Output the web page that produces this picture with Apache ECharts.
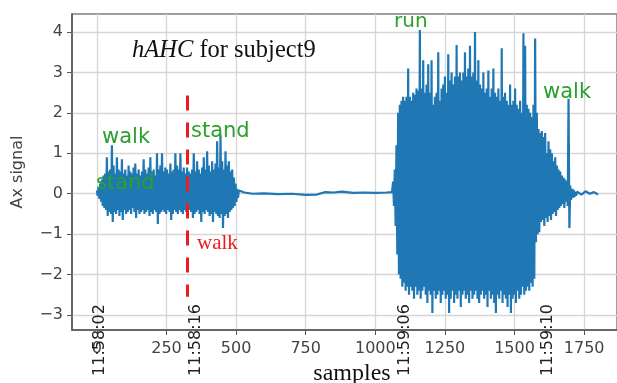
<!DOCTYPE html>
<html>
<head>
<meta charset="utf-8">
<script src="https://cdn.jsdelivr.net/npm/echarts@6/dist/echarts.min.js"></script>
<style>
  html, body { margin: 0; padding: 0; background: #fff; }
  #chart { width: 617px; height: 383px; }
</style>
</head>
<body>
<div id="chart"></div>
<script>
// axis ticks
const xTicks = [0, 250, 500, 750, 1000, 1250, 1500, 1750];
const yTicks = [-3, -2, -1, 0, 1, 2, 3, 4];

// clock times written under the axis
const timeTickX = [10, 357, 1107, 1621];
const timeTickText = ['11:58:02', '11:58:16', '11:59:06', '11:59:10'];

// signal, read as upper / lower swings every 6 samples
const step = 6;

const walkStart = 0;
const walkHi = [
  0.08, 0.15, 0.25, 0.35, 0.45, 0.5, 0.9, 0.55, 0.6, 1.2,
  0.7, 0.5, 0.9, 0.6, 0.55, 0.85, 0.5, 0.6, 0.45, 0.7,
  0.55, 0.5, 0.65, 0.75, 0.5, 0.6, 0.45, 0.55, 0.85, 0.6,
  0.5, 0.65, 0.9, 0.55, 0.6, 0.45, 1.0, 0.6, 0.7, 1.0,
  0.55, 0.65, 0.6, 0.5, 0.75, 0.55, 0.6, 1.0, 0.7, 0.6,
  1.0, 0.55, 0.65, 0.5, 0.65, 0.55, 0.5, 0.6, 1.0, 0.55,
  0.8, 0.6, 0.5, 0.65, 0.9, 0.6, 1.05, 0.7, 0.55, 0.8,
  0.6, 0.75, 1.3, 0.65, 1.45, 0.8, 0.6, 1.05, 0.7, 0.8,
  0.55, 0.6, 0.4, 0.25, 0.12
];
const walkLo = [
  -0.05, -0.12, -0.2, -0.3, -0.35, -0.4, -0.55, -0.45, -0.5, -0.7,
  -0.45, -0.5, -0.4, -0.55, -0.45, -0.65, -0.4, -0.5, -0.45, -0.4,
  -0.5, -0.35, -0.45, -0.6, -0.4, -0.5, -0.45, -0.4, -0.5, -0.45,
  -0.4, -0.55, -0.45, -0.5, -0.4, -0.45, -0.75, -0.5, -0.45, -0.4,
  -0.45, -0.5, -0.4, -0.45, -0.65, -0.5, -0.4, -0.45, -0.5, -0.4,
  -0.45, -0.5, -0.4, -0.45, -0.5, -0.4, -0.45, -0.6, -0.5, -0.45,
  -0.4, -0.5, -0.7, -0.45, -0.5, -0.4, -0.45, -0.55, -0.5, -0.7,
  -0.45, -0.5, -0.55, -0.6, -0.5, -0.85, -0.55, -0.5, -0.6, -0.45,
  -0.4, -0.35, -0.3, -0.2, -0.1
];

const quietX = [510, 530, 560, 600, 650, 700, 750, 790, 820, 850, 880, 920, 960, 1000, 1040, 1060];
const quietY = [0.08, 0.03, 0.0, 0.01, -0.01, 0.0, -0.03, -0.02, 0.04, 0.03, 0.05, 0.02, 0.03, 0.02, 0.03, 0.04];

const runStart = 1064;
const runHi = [
  0.3, 0.6, 1.2, 2.0, 2.2, 2.3, 2.4, 2.3, 2.4, 3.1,
  2.4, 2.3, 2.5, 2.45, 2.6, 2.55, 4.05, 2.6, 3.3, 2.5,
  2.7, 3.2, 2.5, 3.3, 2.2, 2.4, 2.5, 3.5, 2.3, 2.6,
  2.7, 2.9, 2.5, 3.45, 2.8, 3.0, 2.7, 2.9, 3.68, 2.9,
  3.0, 2.8, 3.0, 3.5, 2.9, 3.1, 3.66, 2.9, 3.0, 4.0,
  2.8, 3.3, 2.7, 2.6, 3.0, 2.5, 2.6, 3.05, 2.4, 2.6,
  3.1, 2.5, 2.4, 2.6, 2.3, 3.6, 2.4, 2.5, 2.3, 2.2,
  2.7, 2.2, 2.3, 2.6, 2.2, 2.1, 2.3, 2.0, 3.97, 3.66,
  2.2, 2.1, 2.0, 1.9, 2.2, 3.84
];
const runLo = [
  -0.3, -0.8, -1.5, -2.0, -2.1, -2.3, -2.2, -2.4, -2.3, -2.5,
  -2.3, -2.4, -2.6, -2.3, -2.5, -2.4, -2.6, -2.4, -2.3, -2.5,
  -2.7, -2.4, -2.5, -2.95, -2.4, -2.6, -2.5, -2.4, -2.7, -2.5,
  -2.4, -2.6, -2.5, -2.95, -2.6, -2.4, -2.7, -2.5, -2.6, -2.4,
  -2.8, -2.5, -2.4, -2.6, -2.5, -2.7, -2.4, -2.6, -2.5, -2.4,
  -2.6, -2.7, -2.5, -2.4, -2.6, -2.5, -2.8, -2.4, -2.6, -2.5,
  -2.7, -2.95, -2.5, -2.6, -2.4, -2.7, -2.5, -2.6, -2.8, -2.5,
  -2.95, -2.6, -2.5, -2.7, -2.4, -2.6, -2.5, -2.3, -2.5, -2.4,
  -2.3, -2.4, -2.2, -2.3, -2.1, -1.2
];

const decayStart = 1580;
const decayHi = [
  2.0, 1.6, 1.5, 1.55, 1.4, 1.5, 1.0, 1.3, 1.1, 1.0,
  0.8, 0.9, 0.7, 0.6, 0.55, 0.45, 0.4, 0.35, 0.3, 2.35,
  0.2, 0.12, 0.1, 0.05
];
const decayLo = [
  -1.0, -0.95, -0.7, -0.65, -0.8, -0.6, -0.7, -0.55, -0.65, -0.5,
  -0.45, -0.55, -0.4, -0.35, -0.3, -0.25, -0.35, -0.2, -0.3, -0.85,
  -0.15, -0.1, -0.08, -0.05
];

const tailX = [1725, 1740, 1755, 1770, 1785, 1800];
const tailY = [0.05, -0.02, 0.06, 0.0, 0.04, -0.02];

// red dashed change marker
const cutX = 324;
const cutTop = 2.43;
const cutBottom = -2.55;

function swings(start, hi, lo) {
  const out = [];
  hi.forEach((h, i) => {
    out.push([start + i * step, h]);
    out.push([start + i * step + step / 2, lo[i]]);
  });
  return out;
}

const signal = [].concat(
  swings(walkStart, walkHi, walkLo),
  quietX.map((x, i) => [x, quietY[i]]),
  swings(runStart, runHi, runLo),
  swings(decayStart, decayHi, decayLo),
  tailX.map((x, i) => [x, tailY[i]])
);

const chart = echarts.init(document.getElementById('chart'));

const sans = 'DejaVu Sans';
const serif = 'Liberation Serif';
const green = '#2ca02c';

chart.setOption({
  animation: false,
  grid: {
    left: 72, top: 14, right: -3, bottom: 53,
    show: true, borderColor: '#808080', borderWidth: 1.5
  },
  xAxis: {
    type: 'value',
    min: -89.3,
    max: 1868,
    axisLine: { show: true, onZero: false, lineStyle: { color: '#555', width: 1.5 } },
    axisTick: { show: true, length: 5, customValues: xTicks, lineStyle: { color: '#555' } },
    axisLabel: {
      customValues: xTicks, margin: 11, color: '#444', fontFamily: sans, fontSize: 16,
      formatter: v => String(v)
    },
    splitLine: { show: true, lineStyle: { color: '#d6d6d6', width: 1.3 } }
  },
  yAxis: {
    type: 'value',
    min: -3.37,
    max: 4.445,
    axisLine: { show: true, onZero: false, lineStyle: { color: '#555', width: 1.5 } },
    axisTick: { show: true, length: 5, customValues: yTicks, lineStyle: { color: '#555' } },
    axisLabel: {
      customValues: yTicks, margin: 9, color: '#444', fontFamily: sans, fontSize: 16,
      formatter: v => String(v).replace('-', '\u2212')
    },
    splitLine: { show: true, lineStyle: { color: '#d6d6d6', width: 1.3 } }
  },
  series: [{
    type: 'line',
    data: signal,
    showSymbol: false,
    sampling: 'none',
    lineStyle: { color: '#1f77b4', width: 2.2 },
    markLine: {
      silent: true,
      symbol: 'none',
      label: { show: false },
      lineStyle: { color: '#ee1c1c', width: 3, type: [15, 12] },
      data: [[{ coord: [cutX, cutTop] }, { coord: [cutX, cutBottom] }]]
    }
  }]
});

// texts placed on top of the plot
const gfx = [];
const label = (text, x, y, color, size, family) => gfx.push({
  type: 'text', x, y, z: 100,
  style: { text, fill: color, fontSize: size, fontFamily: family, verticalAlign: 'bottom' }
});
label('walk', 102, 148, green, 21, sans);
label('stand', 96, 194, green, 21, sans);
label('stand', 191, 142, green, 21, sans);
label('run', 394, 32, green, 20, sans);
label('walk', 543, 103, green, 21, sans);
label('walk', 197, 254, '#ee1c1c', 21, serif);

gfx.push({
  type: 'text', x: 132, y: 63, z: 100,
  style: {
    text: '{i|hAHC} for subject9', fill: '#111', fontSize: 24.5, fontFamily: serif,
    verticalAlign: 'bottom',
    rich: { i: { fontStyle: 'italic', fontSize: 24.5, fontFamily: serif, fill: '#111' } }
  }
});
gfx.push({
  type: 'text', x: 352, y: 386, z: 100,
  style: { text: 'samples', fill: '#111', fontSize: 24, fontFamily: serif, align: 'center', verticalAlign: 'bottom' }
});
gfx.push({
  type: 'text', x: 18, y: 172, z: 100, rotation: Math.PI / 2,
  style: { text: 'Ax signal', fill: '#444', fontSize: 16, fontFamily: sans, align: 'center', verticalAlign: 'middle' }
});

timeTickX.forEach((v, i) => {
  const px = chart.convertToPixel({ xAxisIndex: 0 }, v);
  gfx.push({
    type: 'text', x: px, y: 340, z: 100, rotation: Math.PI / 2,
    style: { text: timeTickText[i], fill: '#222', fontSize: 16, fontFamily: sans, align: 'center', verticalAlign: 'middle' }
  });
});

chart.setOption({ graphic: gfx });
</script>
</body>
</html>
